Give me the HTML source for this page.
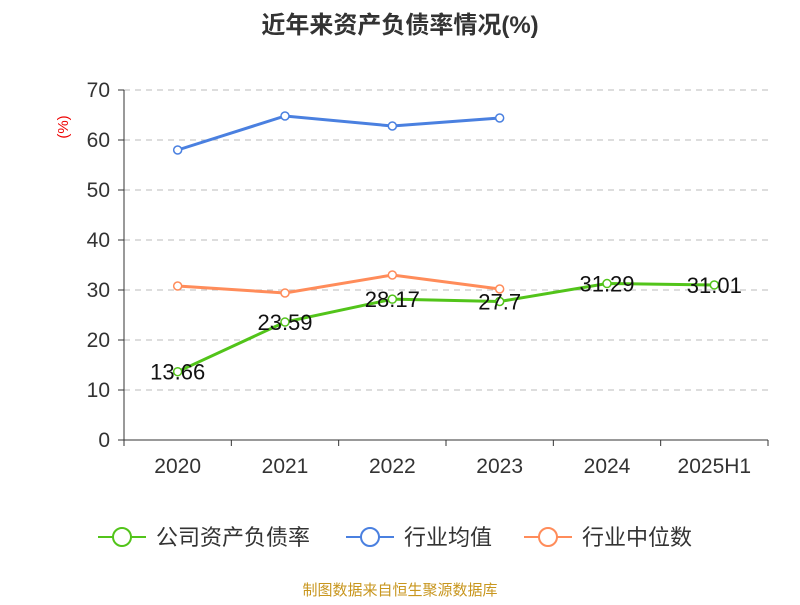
<!DOCTYPE html>
<html><head><meta charset="utf-8"><style>
body{margin:0;background:#fff;font-family:"Liberation Sans","Noto Sans CJK SC",sans-serif}
</style></head><body>
<svg width="800" height="600" xmlns="http://www.w3.org/2000/svg" style="font-family:'Liberation Sans','Noto Sans CJK SC',sans-serif">
<text x="400" y="33" text-anchor="middle" font-size="24" font-weight="bold" fill="#333">近年来资产负债率情况(%)</text>
<text x="68" y="127" font-size="15" fill="#e00" transform="rotate(-90 68 127)" text-anchor="middle">(%)</text>
<g id="grid"></g><g id="axes"></g><g id="series"></g>
<g>
<g><line x1="98" y1="537" x2="146" y2="537" stroke="#52c41a" stroke-width="2"/><circle cx="122" cy="537" r="9" fill="#fff" stroke="#52c41a" stroke-width="2"/><text x="156" y="545" font-size="22" fill="#333">公司资产负债率</text></g>
<g><line x1="346" y1="537" x2="394" y2="537" stroke="#4a80e0" stroke-width="2"/><circle cx="370" cy="537" r="9" fill="#fff" stroke="#4a80e0" stroke-width="2"/><text x="404" y="545" font-size="22" fill="#333">行业均值</text></g>
<g><line x1="524" y1="537" x2="572" y2="537" stroke="#ff8c5a" stroke-width="2"/><circle cx="548" cy="537" r="9" fill="#fff" stroke="#ff8c5a" stroke-width="2"/><text x="582" y="545" font-size="22" fill="#333">行业中位数</text></g>
</g>
<text x="400" y="595" text-anchor="middle" font-size="15" fill="#c8961e">制图数据来自恒生聚源数据库</text>
</svg>
<script>
const categories=["2020","2021","2022","2023","2024","2025H1"];
const companyValues=[13.66,23.59,28.17,27.7,31.29,31.01];
const industryAvg=[58,64.8,62.8,64.4];
const industryMedian=[30.8,29.4,33,30.2];
const yTicks=[0,10,20,30,40,50,60,70];
const NS="http://www.w3.org/2000/svg";
const x0=124,x1=768,y0=440,yTop=90,yMax=70;
const band=(x1-x0)/categories.length;
const xs=i=>x0+band*(i+0.5);
const ys=v=>y0-(v/yMax)*(y0-yTop);
function mk(t,a,p){const e=document.createElementNS(NS,t);for(const k in a)e.setAttribute(k,a[k]);p.appendChild(e);return e;}
const grid=document.getElementById('grid'),axes=document.getElementById('axes'),ser=document.getElementById('series');
yTicks.forEach(v=>{
 if(v>0){const g=mk('line',{x1:x0,x2:x1,y1:ys(v),y2:ys(v),stroke:'#bbb','stroke-dasharray':'6,5'},grid);
 
 }
 const t=mk('text',{x:x0-14,y:ys(v)+7,'text-anchor':'end','font-size':21,fill:'#333'},axes);t.textContent=v;
 
 
 mk('line',{x1:x0-6,x2:x0,y1:ys(v),y2:ys(v),stroke:'#333'},axes);
});
const ya=mk('line',{x1:x0,x2:x0,y1:yTop,y2:y0,stroke:'#333'},axes);


const xa=mk('line',{x1:x0,x2:x1,y1:y0,y2:y0,stroke:'#333'},axes);


for(let i=0;i<=categories.length;i++)mk('line',{x1:x0+band*i,x2:x0+band*i,y1:y0,y2:y0+6,stroke:'#333'},axes);
categories.forEach((c,i)=>{const t=mk('text',{x:xs(i),y:473,'text-anchor':'middle','font-size':21,fill:'#333'},axes);t.textContent=c;
 
 });
function line(vals,color,name,labels){
 const g=mk('g',{},ser);
 
 
 mk('polyline',{points:vals.map((v,i)=>xs(i)+','+ys(v)).join(' '),fill:'none',stroke:color,'stroke-width':3},g);
 vals.forEach((v,i)=>{const c=mk('circle',{cx:xs(i),cy:ys(v),r:4,fill:'#fff',stroke:color,'stroke-width':1.5},g);
  
  
  if(labels){const t=mk('text',{x:xs(i),y:ys(v)+8,'text-anchor':'middle','font-size':22,fill:'#111'},g);t.textContent=v;
   
   }});
}
line(industryMedian,'#ff8c5a','industry-median-line',false);
line(industryAvg,'#4a80e0','industry-avg-line',false);
line(companyValues,'#52c41a','company-line',true);
</script>
</body></html>
